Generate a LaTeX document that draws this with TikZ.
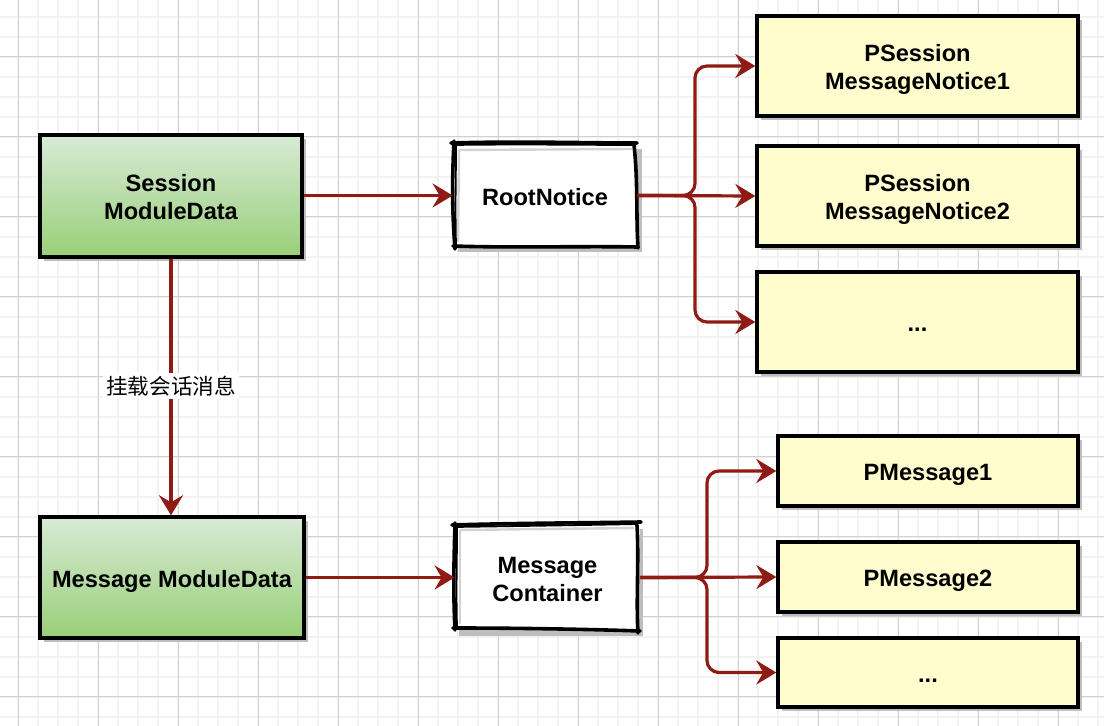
\documentclass[tikz,border=0pt]{standalone}
\usepackage{fontspec}
\setmainfont{Liberation Sans}
\newfontfamily\cjkfont{Noto Sans CJK SC}
\usetikzlibrary{arrows.meta,shadows,calc}
\definecolor{arrred}{RGB}{143,27,20}
\definecolor{gtop}{RGB}{216,234,214}
\definecolor{gbot}{RGB}{152,207,120}
\definecolor{yfill}{RGB}{255,252,206}
\definecolor{shd}{RGB}{190,190,190}
\definecolor{minorg}{RGB}{242,242,242}
\definecolor{majorg}{RGB}{208,208,208}
\tikzset{
  boxtext/.style={font=\bfseries\fontsize{11.8pt}{14.1pt}\selectfont, align=center, text=black},
  oneline/.style={text height=11.4pt, text depth=1.4pt},
  twoline/.style={text height=25.3pt, text depth=1.4pt},
  plainbox/.style={boxtext, draw=black, line width=1.7pt, inner sep=0pt,
    general shadow={fill=shd, shadow xshift=2pt, shadow yshift=-2pt}},
  greenbox/.style={plainbox, top color=gtop, bottom color=gbot},
  yellowbox/.style={plainbox, fill=yfill},
  sketchbox/.style={boxtext, inner sep=0pt},
  sketchline/.style={draw=black, line width=1.8pt, line cap=round},
  sketchthin/.style={draw=black, line width=0.9pt, line cap=round},
  arr/.style={draw=arrred, line width=1.6pt, -{Stealth[length=10pt, width=12pt, inset=3.5pt]}},
  branch/.style={arr, rounded corners=6pt},
  lbl/.style={font=\cjkfont\fontsize{10.8pt}{13pt}\selectfont, fill=white, inner sep=1.5pt}
}
\begin{document}
\begin{tikzpicture}[x=0.5pt,y=-0.5pt]
\useasboundingbox (0,0) rectangle (1104,726);
\fill[white] (0,0) rectangle (1104,726);
\begin{scope}
\clip (0,0) rectangle (1104,726);
\foreach \gx in {-2,18,...,1102} \draw[minorg, line width=1pt] (\gx,0) -- (\gx,726);
\foreach \gy in {-3,17,...,725} \draw[minorg, line width=1pt] (0,\gy) -- (1104,\gy);
\foreach \gx in {18,98,...,1098} \draw[majorg, line width=0.5pt] (\gx,0) -- (\gx,726);
\foreach \gy in {57,137,...,697} \draw[majorg, line width=0.5pt] (0,\gy) -- (1104,\gy);
\end{scope}

% plain boxes
\node[greenbox, twoline, minimum width=131pt, minimum height=61pt] (smd) at (171,196) {Session\\ModuleData};
\node[greenbox, oneline, minimum width=132pt, minimum height=60.5pt] (mmd) at (172,577.5) {Message ModuleData};
\node[yellowbox, twoline, minimum width=160.5pt, minimum height=50pt] (ps1) at (917.5,66) {PSession\\MessageNotice1};
\node[yellowbox, twoline, minimum width=160.5pt, minimum height=50pt] (ps2) at (917.5,196) {PSession\\MessageNotice2};
\node[yellowbox, oneline, minimum width=160.5pt, minimum height=50pt] (ps3) at (917.5,322) {...};
\node[yellowbox, oneline, minimum width=150pt, minimum height=35pt] (pm1) at (928,471) {PMessage1};
\node[yellowbox, oneline, minimum width=150pt, minimum height=35pt] (pm2) at (928,577) {PMessage2};
\node[yellowbox, oneline, minimum width=150pt, minimum height=34.5pt] (pm3) at (928,672.5) {...};

% sketchy box: RootNotice
\fill[shd] (458,149) rectangle (642,252);
\fill[white] (454,145) -- (636,144) -- (637,246) -- (454,246) -- cycle;
\draw[shd!70, line width=1.2pt] (459,150) -- (632,149);
\draw[shd!70, line width=1.2pt] (459,150) -- (458,242);
\node[sketchbox, oneline, minimum width=92pt, minimum height=51.5pt] (root) at (545,195.5) {RootNotice};
\draw[sketchline] (451,143) .. controls (520,141) and (580,143) .. (637,143);
\draw[sketchline] (634,145) .. controls (638,180) and (636,215) .. (638,248);
\draw[sketchline] (637,247) .. controls (580,246) and (510,248) .. (453,246);
\draw[sketchline] (455,249) .. controls (452,210) and (452,180) .. (454,141);
\draw[sketchthin] (453,145) .. controls (520,144) and (590,145) .. (635,145);
\draw[sketchthin] (456,246) .. controls (455,200) and (456,180) .. (456,146);

% sketchy box: Message Container
\fill[shd] (459,529) rectangle (643,636);
\fill[white] (455,525) -- (640,523) -- (638,632) -- (455,628) -- cycle;
\draw[shd!70, line width=1.2pt] (460,530) -- (634,528);
\draw[shd!70, line width=1.2pt] (460,530) -- (460,624);
\node[sketchbox, twoline, minimum width=92.5pt, minimum height=52.5pt] (cont) at (547.5,577.5) {Message\\Container};
\draw[sketchline] (452,525) .. controls (520,523) and (580,523) .. (641,522);
\draw[sketchline] (637,525) .. controls (639,560) and (636,600) .. (638,633);
\draw[sketchline] (640,631) .. controls (580,629) and (510,628) .. (453,628);
\draw[sketchline] (455,630) .. controls (453,590) and (454,560) .. (455,523);
\draw[sketchthin] (454,527) .. controls (520,526) and (590,525) .. (637,524);
\draw[sketchthin] (457,627) .. controls (456,590) and (457,560) .. (457,528);

% connectors
\coordinate (b1) at (695,0);
\coordinate (b2) at (707,0);
\draw[arr] (smd.east |- root.west) -- (root.west);
\draw[arr] (root.east) -- (ps2.west);
\draw[branch] (root.east) -| (b1 |- ps1.west) -- (ps1.west);
\draw[branch] (root.east) -| (b1 |- ps3.west) -- (ps3.west);
\draw[arr] (mmd.east |- cont.west) -- (cont.west);
\draw[arr] (cont.east) -- (pm2.west);
\draw[branch] (cont.east) -| (b2 |- pm1.west) -- (pm1.west);
\draw[branch] (cont.east) -| (b2 |- pm3.west) -- (pm3.west);
\draw[arr] (smd.south) -- (smd.south |- mmd.north) node[lbl, pos=0.495] {挂载会话消息};
\end{tikzpicture}
\end{document}
